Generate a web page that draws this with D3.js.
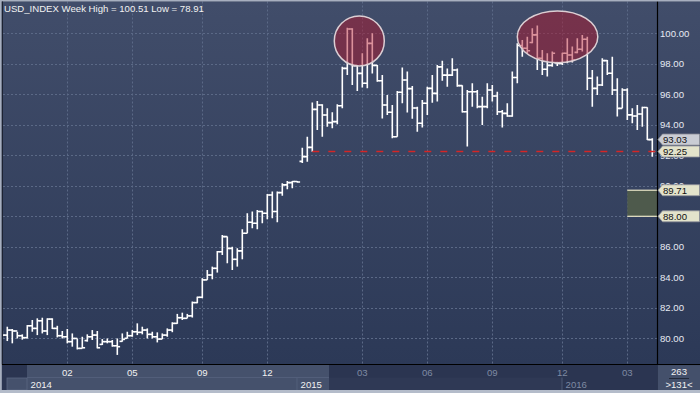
<!DOCTYPE html>
<html><head><meta charset="utf-8">
<script src="https://cdn.jsdelivr.net/npm/d3@7"></script>
<style>html,body{margin:0;padding:0;background:#2c3650;overflow:hidden}svg{display:block}</style>
</head><body><svg id="c" width="700" height="393"></svg>
<script>
// ---- data (weekly bars, index 0..130) ----
const openV = [
80.30,80.21,80.54,80.48,80.17,80.04,80.82,80.65,81.15,80.48,
81.26,80.65,80.17,80.10,79.78,79.99,79.34,79.85,80.10,80.21,
79.60,79.78,79.78,79.51,79.80,80.00,80.17,80.43,80.39,80.54,
80.26,80.10,79.95,80.21,80.54,80.98,81.35,81.31,81.47,82.34,
82.69,83.83,84.15,84.59,85.68,86.67,85.90,85.18,85.73,86.89,
87.61,87.54,88.31,88.20,89.40,88.31,89.55,90.06,90.21,90.28,
91.60,91.91,92.52,95.01,95.30,94.64,94.14,94.21,95.25,97.70,
100.28,97.88,97.37,96.72,99.34,97.90,96.89,95.30,94.82,93.22,
96.13,96.94,96.37,95.10,94.10,95.41,96.39,96.06,97.80,97.26,
97.26,97.59,96.57,94.86,96.17,96.17,95.19,95.19,96.28,95.89,
94.86,94.75,94.58,97.10,99.20,99.02,99.40,99.90,98.36,97.64,
97.90,98.05,98.03,98.69,98.58,98.75,98.95,99.61,97.05,96.39,
96.61,98.21,97.38,96.28,95.08,96.28,94.65,94.58,94.71,95.13,
93.03];
const highV = [
80.50,80.76,80.61,80.43,80.26,80.87,81.20,81.31,81.35,81.31,
81.31,80.82,80.48,80.61,80.32,79.99,80.10,80.26,80.54,80.48,
79.95,79.99,79.89,79.99,80.32,80.43,80.54,80.98,80.76,80.65,
80.43,80.39,80.32,80.65,81.05,81.60,81.68,81.60,82.41,82.73,
83.94,84.48,84.70,85.73,86.78,86.67,86.01,85.90,87.15,88.20,
88.31,88.42,88.37,89.47,89.62,89.62,90.17,90.32,90.32,90.32,
92.50,93.22,95.47,95.56,95.35,95.08,94.82,95.34,97.81,100.37,
100.33,97.92,98.69,99.67,100.00,97.92,97.27,95.95,95.30,96.22,
97.75,97.50,96.55,95.19,95.63,96.50,97.26,97.92,98.20,97.70,
98.36,97.70,96.60,96.28,96.72,96.28,95.84,96.72,96.61,96.17,
94.97,95.41,97.50,99.34,99.56,99.78,100.33,100.51,98.91,98.69,
98.80,98.14,98.73,99.67,99.13,99.67,99.89,99.78,97.60,97.16,
98.36,98.25,98.47,97.05,96.39,96.39,95.08,95.30,95.19,95.15,
93.12];
const lowV = [
80.00,79.82,79.67,79.99,79.91,79.99,80.43,80.21,80.32,80.21,
80.61,80.06,79.99,79.67,79.45,79.27,79.34,79.78,79.89,79.34,
79.56,79.67,79.45,78.91,79.78,79.99,80.10,80.21,80.26,79.99,
79.99,79.73,79.95,80.10,80.40,80.95,81.20,81.31,81.36,82.30,
82.63,83.83,83.87,84.31,85.47,84.92,84.48,84.70,85.18,86.89,
87.21,87.15,87.54,87.81,87.87,87.61,89.34,89.77,89.84,90.21,
91.50,91.58,92.24,93.66,93.22,93.88,93.77,94.03,95.08,97.27,
96.61,96.22,96.44,96.39,97.37,96.83,94.42,94.64,93.11,93.22,
95.41,94.80,94.40,93.55,93.83,94.64,95.45,95.52,96.89,96.50,
97.20,96.50,94.80,92.57,95.19,95.08,93.99,95.08,95.52,94.64,
93.83,94.53,94.53,96.72,98.47,98.69,99.34,97.60,97.27,97.16,
97.81,97.86,97.92,98.03,98.08,98.69,98.80,96.28,95.19,95.96,
96.55,97.27,95.96,94.54,95.08,94.32,94.10,93.66,93.88,93.01,
91.91];
const closeV = [
80.21,80.54,80.48,80.17,80.04,80.82,80.65,81.15,80.48,81.26,
80.65,80.17,80.10,79.78,79.99,79.34,79.38,80.10,80.21,79.38,
79.78,79.78,79.51,79.45,79.93,80.17,80.43,80.39,80.54,80.26,
80.10,79.95,80.21,80.54,80.98,81.35,81.31,81.47,82.34,82.69,
83.83,84.15,84.59,85.68,86.67,85.90,85.18,85.73,86.89,87.61,
87.54,88.31,88.20,89.40,88.31,89.55,90.06,90.21,90.28,90.25,
91.91,92.52,95.01,95.30,94.64,94.14,94.21,95.25,97.70,100.28,
97.88,97.37,96.72,99.34,97.90,96.89,95.30,94.82,93.22,96.13,
96.94,96.37,95.10,94.10,95.41,96.39,96.06,97.80,97.26,97.26,
97.59,96.57,94.86,96.17,96.17,95.19,95.19,96.28,95.89,94.86,
94.75,94.58,97.10,99.20,99.02,98.86,99.90,98.36,97.64,97.90,
98.69,98.03,98.69,98.58,98.25,98.95,99.61,97.05,96.39,96.61,
98.21,97.38,96.28,95.08,96.28,94.65,94.58,94.71,95.13,93.03,
92.25];

const yTicks = [80,82,84,86,88,90,92,94,96,98,100];
const monthTickIdx = [13,26,40,53,72,85,98,112,125];
const monthTickLabels = ["02","05","09","12","03","06","09","12","03"];
const yearLabels = ["2014","2015","2016"];
const yearIdx = [5,59,112];
const markerValues = [93.03,92.25,89.71,88.00];
const levelStartIdx = 62, levelValue = 92.25;
const zoneStartIdx = 125, zoneLo = 88.00, zoneHi = 89.71;
// ellipse annotations: [idxFrom, idxTo, valLo, valHi]
const ellipses = [[66.4,76.4,97.86,101.14],[103.0,119.1,98.07,101.47]];
const title = "USD_INDEX Week High = 100.51 Low = 78.91";
const barCountText = "263", visibleText = ">131<";

// ---- layout ----
const W=700,H=393, pL=3, pR=657, pT=1.5, pB=364;
const svg = d3.select("#c");
const x = d3.scaleLinear().domain([0,130]).range([2.3,652.3]);
const y = d3.scaleLinear().domain([80,100]).range([338.3,33.3]);
const font = "'Liberation Sans', Arial, sans-serif";

const defs = svg.append("defs");
const g1 = defs.append("linearGradient").attr("id","bg").attr("x1",0).attr("y1",0).attr("x2",0).attr("y2",1);
g1.append("stop").attr("offset","0%").attr("stop-color","#414d6a");
g1.append("stop").attr("offset","100%").attr("stop-color","#2c3957");
defs.append("clipPath").attr("id","clip").append("rect").attr("x",pL).attr("y",pT).attr("width",pR-pL).attr("height",pB-pT);

// frame
svg.append("rect").attr("x",0).attr("y",0).attr("width",W).attr("height",H).attr("fill","#2c3650");
svg.append("rect").attr("x",pL).attr("y",pT).attr("width",W-pL).attr("height",pB-pT).attr("fill","url(#bg)");

// gridlines
const grid = svg.append("g").attr("stroke","#5b6986").attr("stroke-width",1).attr("stroke-dasharray","2,2");
grid.selectAll("line.h").data(yTicks).join("line").attr("class","h")
  .attr("x1",pL).attr("x2",pR).attr("y1",d=>Math.round(y(d))+0.5).attr("y2",d=>Math.round(y(d))+0.5);
grid.selectAll("line.v").data(monthTickIdx).join("line").attr("class","v")
  .attr("y1",pT).attr("y2",pB).attr("x1",d=>Math.round(x(d))+0.5).attr("x2",d=>Math.round(x(d))+0.5);

// zone
svg.append("rect").attr("x",x(zoneStartIdx)).attr("width",pR-x(zoneStartIdx))
  .attr("y",y(zoneHi)).attr("height",y(zoneLo)-y(zoneHi)).attr("fill","#4e5a4c");
[zoneHi,zoneLo].forEach(v=>svg.append("line").attr("x1",x(zoneStartIdx)).attr("x2",pR)
  .attr("y1",y(v)).attr("y2",y(v)).attr("stroke","#ece8c8").attr("stroke-width",1.2));

// bars
const bars = svg.append("g").attr("clip-path","url(#clip)").attr("stroke","#ffffff").attr("stroke-width",1.6);
const idx = d3.range(closeV.length);
bars.selectAll("line.r").data(idx).join("line")
  .attr("x1",i=>x(i)).attr("x2",i=>x(i)).attr("y1",i=>y(highV[i])).attr("y2",i=>y(lowV[i]));
bars.selectAll("line.o").data(idx).join("line").attr("class","o")
  .attr("x1",i=>x(i)-2.8).attr("x2",i=>x(i)).attr("y1",i=>y(openV[i])).attr("y2",i=>y(openV[i]));
bars.selectAll("line.c").data(idx).join("line").attr("class","c")
  .attr("x1",i=>x(i)).attr("x2",i=>x(i)+2.8).attr("y1",i=>y(closeV[i])).attr("y2",i=>y(closeV[i]));

// level line
svg.append("line").attr("x1",x(levelStartIdx)).attr("x2",pR).attr("y1",y(levelValue)).attr("y2",y(levelValue))
  .attr("stroke","#d42626").attr("stroke-width",1.6).attr("stroke-dasharray","7,9");

// ellipses
svg.selectAll("ellipse").data(ellipses).join("ellipse")
  .attr("cx",d=>(x(d[0])+x(d[1]))/2).attr("cy",d=>(y(d[2])+y(d[3]))/2)
  .attr("rx",d=>(x(d[1])-x(d[0]))/2).attr("ry",d=>(y(d[2])-y(d[3]))/2)
  .attr("fill","rgba(178,22,42,0.47)").attr("stroke","#dccfd4").attr("stroke-width",1.5);

// title
svg.append("text").attr("x",4).attr("y",12).attr("fill","#f2f2f2").attr("font-family",font).attr("font-size",9.6).text(title);

// axes lines
svg.append("line").attr("x1",pR+0.5).attr("x2",pR+0.5).attr("y1",0).attr("y2",pB).attr("stroke","#000").attr("stroke-width",1.2);

// right labels (a label fully covered by a marker box is not drawn)
const axisLabels = yTicks.filter(t=>!markerValues.some(m=>Math.abs(y(m)-y(t))<3));
svg.selectAll("text.yl").data(axisLabels).join("text").attr("class","yl")
  .attr("x",660).attr("y",d=>y(d)+3.6).attr("fill","#e6eaf2").attr("font-family",font).attr("font-size",9.6)
  .text(d=>d.toFixed(2));

// markers
const mk = svg.selectAll("g.mk").data(markerValues).join("g").attr("class","mk");
mk.append("path").attr("d",v=>{const c=y(v);return `M658,${c} L662.5,${c-5.5} L699.5,${c-5.5} L699.5,${c+5.5} L662.5,${c+5.5} Z`;})
  .attr("fill",(v,i)=>i===0?"#c9ccd4":"#e3e3cb").attr("stroke","#8f929a").attr("stroke-width",0.8);
mk.append("text").attr("x",663).attr("y",v=>y(v)+3.6).attr("fill","#111").attr("font-family",font).attr("font-size",9.6).text(v=>v.toFixed(2));

// bottom strip
const bt = 364.5, bm = 377.5, bb = 390;
svg.append("rect").attr("x",0).attr("y",bt).attr("width",pR).attr("height",bb-bt).attr("fill","#2b3551");
const hiL = x(yearIdx[0])-0.3, hiR = 329;
svg.append("rect").attr("x",hiL).attr("y",bt).attr("width",hiR-hiL).attr("height",bb-bt).attr("fill","#45516c");
svg.append("rect").attr("x",7).attr("y",bm+0.5).attr("width",hiL-7).attr("height",bb-bm-0.5).attr("fill","#45516c").attr("stroke","#5b6782").attr("stroke-width",0.8);
svg.append("rect").attr("x",hiR).attr("y",bm).attr("width",x(yearIdx[2])-hiR).attr("height",bb-bm).attr("fill","#2f3955");
svg.append("line").attr("x1",hiL).attr("x2",hiR).attr("y1",bm).attr("y2",bm).attr("stroke","#56627d").attr("stroke-width",0.8);
yearIdx.forEach((d,i)=>{ if(i>0) svg.append("line").attr("x1",x(d)-0.3).attr("x2",x(d)-0.3).attr("y1",bm).attr("y2",bb).attr("stroke","#56627d").attr("stroke-width",0.8);});
svg.selectAll("text.mt").data(monthTickIdx).join("text").attr("class","mt")
  .attr("x",d=>x(d)).attr("y",376).attr("text-anchor","middle").attr("font-family",font).attr("font-size",9.6)
  .attr("fill",d=>x(d)<hiR?"#f2f2f2":"#7e8aa3").text((d,i)=>monthTickLabels[i]);
svg.selectAll("text.yr").data(yearIdx).join("text").attr("class","yr")
  .attr("x",d=>x(d)+3.3).attr("y",387.5).attr("font-family",font).attr("font-size",9.6)
  .attr("fill",d=>x(d)<hiR?"#f2f2f2":"#7e8aa3").text((d,i)=>yearLabels[i]);
svg.append("line").attr("x1",0).attr("x2",W).attr("y1",pB+0.5).attr("y2",pB+0.5).attr("stroke","#000").attr("stroke-width",1.2);

// bottom right panel
svg.append("rect").attr("x",pR+1).attr("y",bt+0.6).attr("width",W-pR-1).attr("height",bb-bt-0.6).attr("fill","#44506b");
svg.append("text").attr("x",679).attr("y",375).attr("text-anchor","middle").attr("fill","#f2f2f2").attr("font-family",font).attr("font-size",9.6).text(barCountText);
svg.append("line").attr("x1",669).attr("x2",689).attr("y1",378.5).attr("y2",378.5).attr("stroke","#222a3a").attr("stroke-width",1);
svg.append("text").attr("x",679).attr("y",387.5).attr("text-anchor","middle").attr("fill","#f2f2f2").attr("font-family",font).attr("font-size",9.6).text(visibleText);

// outer borders
svg.append("rect").attr("x",0).attr("y",0).attr("width",W).attr("height",1.5).attr("fill","#a7afbf");
svg.append("rect").attr("x",0).attr("y",0).attr("width",1.8).attr("height",H).attr("fill","#a7afbf");
svg.append("rect").attr("x",1.8).attr("y",1.5).attr("width",1.2).attr("height",pB-1.5).attr("fill","#1c2232");
svg.append("rect").attr("x",0).attr("y",bb).attr("width",W).attr("height",H-bb).attr("fill","#b4bcca");
</script></body></html>
